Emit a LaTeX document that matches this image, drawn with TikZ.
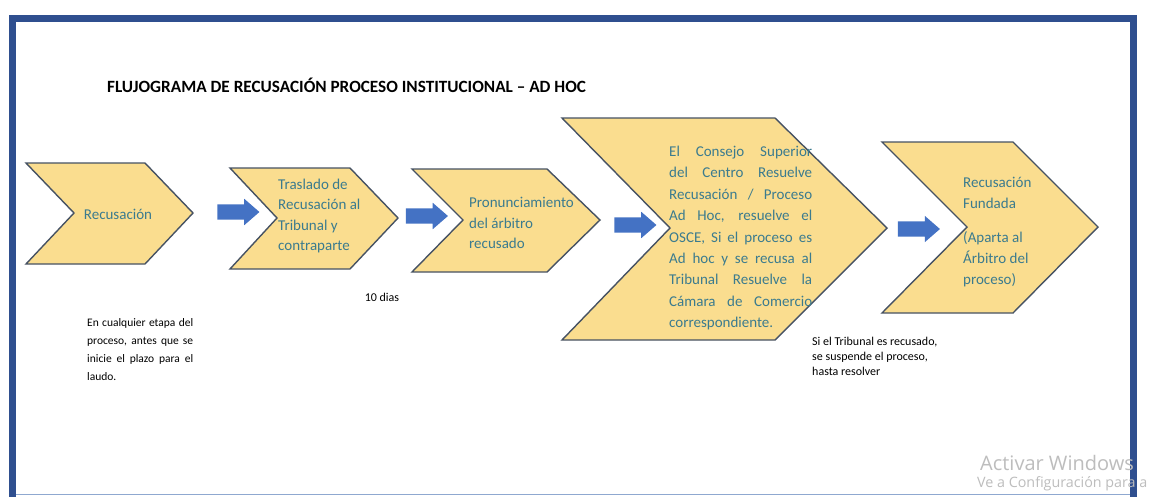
\documentclass[tikz,border=0pt]{standalone}
\usepackage{fontspec}
\setmainfont{Carlito}
\newfontfamily\wmfont{Open Sans}
\usetikzlibrary{shapes.arrows}
\definecolor{chfill}{HTML}{FADD8F}
\definecolor{chline}{HTML}{465263}
\definecolor{chtext}{HTML}{3B7B8E}
\definecolor{arrblue}{HTML}{4472C4}
\definecolor{frameblue}{HTML}{2F4F8F}
\definecolor{framelight}{HTML}{8FA8D0}
\definecolor{wmgray}{HTML}{BDBDBD}
\newcommand\jl[2]{\makebox[#1][s]{#2}}
\begin{document}
\begin{tikzpicture}[x=1pt,y=-1pt,
  chev/.style={fill=chfill,draw=chline,line width=1.4pt,line join=miter},
  chtxt/.style={text=chtext,font=\fontsize{15}{20.6}\selectfont,inner sep=0pt,align=left},
  note/.style={text=black,font=\fontsize{12}{15}\selectfont,inner sep=0pt,align=left},
  blk/.style={single arrow,fill=arrblue,draw=none,minimum height=42pt,
    single arrow head extend=5.5pt,inner sep=0pt,single arrow tip angle=82}]
\useasboundingbox (0,0) rectangle (1152,496);
\fill[white] (0,0) rectangle (1152,496);
\begin{scope}
\clip (0,0) rectangle (1152,496);
% frame
\draw[framelight,line width=1.5pt] (12,494.5) -- (1133,494.5);
\draw[frameblue,line width=6.5pt] (12.5,497) -- (12.5,18.5) -- (1133.5,18.5) -- (1133.5,497);

% title
\node[anchor=west,inner sep=0pt,font=\bfseries\fontsize{17.2}{20}\selectfont] (title) at (107,85)
  {FLUJOGRAMA DE RECUSACIÓN PROCESO INSTITUCIONAL – AD HOC};

% chevrons
\filldraw[chev] (26,163) -- (145,163) -- (193,213) -- (145,264) -- (26,264) -- (74,213) -- cycle;
\filldraw[chev] (230,168) -- (350,168) -- (398,218) -- (350,269) -- (230,269) -- (277,218) -- cycle;
\filldraw[chev] (412,169) -- (547,169) -- (600,220) -- (547,272) -- (412,272) -- (463,220) -- cycle;
\filldraw[chev] (562,118) -- (775,118) -- (887,228) -- (775,340) -- (562,340) -- (670,228) -- cycle;
\filldraw[chev] (882,142) -- (1013,142) -- (1098,227) -- (1013,313) -- (882,313) -- (967,227) -- cycle;

% chevron texts
\node[chtxt] (t1) at (118,214) {Recusación};
\node[chtxt,anchor=west] (t2) at (278,216) {Traslado de\\Recusación al\\Tribunal y\\contraparte};
\node[chtxt,anchor=west] (t3) at (469,223) {Pronunciamiento\\del árbitro\\recusado};
\node[chtxt,anchor=west,font=\fontsize{15}{21.4}\selectfont] (t4) at (669,238)
  {\jl{143pt}{El Consejo Superior}\\
   \jl{143pt}{del Centro Resuelve}\\
   \jl{143pt}{Recusación / Proceso}\\
   \jl{143pt}{Ad Hoc, resuelve el}\\
   \jl{143pt}{OSCE, Si el proceso es}\\
   \jl{143pt}{Ad hoc y se recusa al}\\
   \jl{143pt}{Tribunal Resuelve la}\\
   \jl{143pt}{Cámara de Comercio}\\
   correspondiente.};
\node[chtxt,anchor=west] (t5) at (963,232) {Recusación\\Fundada\\[14pt](Aparta al\\Árbitro del\\proceso)};

% block arrows
\node[blk] (a1) at (234,212) {\rule{0pt}{15pt}};
\node[blk] (a2) at (422.5,216) {\rule{0pt}{15pt}};
\node[blk] (a3) at (631,225) {\rule{0pt}{15pt}};
\node[blk] (a4) at (914.5,229) {\rule{0pt}{15pt}};

% notes
\node[note] (n1) at (382,297) {10 dias};
\node[note,anchor=west,font=\fontsize{11.5}{18}\selectfont] (n2) at (87,350)
  {\jl{106pt}{En cualquier etapa del}\\
   \jl{106pt}{proceso, antes que se}\\
   \jl{106pt}{inicie el plazo para el}\\
   laudo.};
\node[note,anchor=west] (n3) at (812,356)
  {Si el Tribunal es recusado,\\se suspende el proceso,\\hasta resolver};

% watermark
\node[anchor=west,inner sep=0pt,text=wmgray,font=\wmfont\fontsize{20}{22}\selectfont] (w1) at (980,463) {Activar Windows};
\node[anchor=west,inner sep=0pt,text=wmgray,font=\wmfont\fontsize{14.3}{16}\selectfont] (w2) at (977,484) {Ve a Configuración para a};
\end{scope}
\end{tikzpicture}
\end{document}
